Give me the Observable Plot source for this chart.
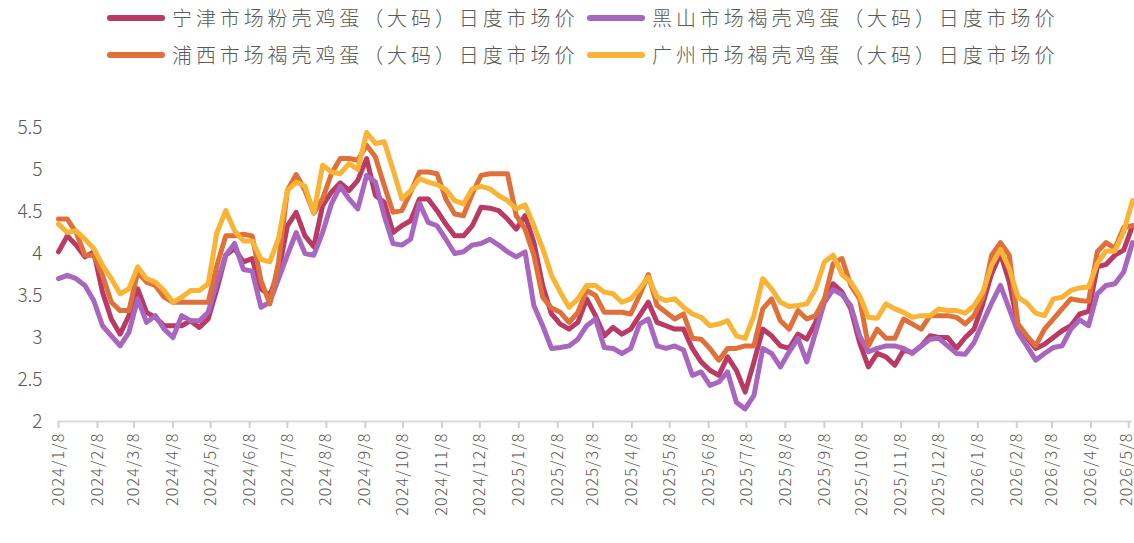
<!DOCTYPE html>
<html>
<head>
<meta charset="utf-8">
<script src="https://cdn.jsdelivr.net/npm/d3@7"></script>
<script src="https://cdn.jsdelivr.net/npm/@observablehq/plot@0.6"></script>
<style>
  html, body { margin: 0; padding: 0; background: #fff; }
  body { width: 1134px; height: 543px; overflow: hidden; font-family: "Noto Sans CJK SC", "Noto Sans", sans-serif; }
  #legend { position: relative; width: 1134px; height: 85px; }
  .item { position: absolute; display: flex; align-items: center; height: 30px; }
  .sw { width: 58px; height: 6px; border-radius: 3px; margin-right: 7px; }
  .lab { font-size: 20px; font-weight: 300; letter-spacing: 3.9px; color: #595959; white-space: nowrap; line-height: 30px; }
  #chart svg { display: block; }
</style>
</head>
<body>
<div id="legend"></div>
<div id="chart"></div>
<script>
const seriesNames = ["宁津市场粉壳鸡蛋（大码）日度市场价", "黑山市场褐壳鸡蛋（大码）日度市场价", "浦西市场褐壳鸡蛋（大码）日度市场价", "广州市场褐壳鸡蛋（大码）日度市场价"];
const seriesColors = ["#B93A63", "#A966BF", "#E0703A", "#F9B335"];

const dates = [
"2024-01-08","2024-01-15","2024-01-22","2024-01-29","2024-02-05","2024-02-12","2024-02-19","2024-02-26",
"2024-03-04","2024-03-11","2024-03-18","2024-03-25","2024-04-01","2024-04-08","2024-04-15","2024-04-22","2024-04-29",
"2024-05-06","2024-05-13","2024-05-20","2024-05-27","2024-06-03","2024-06-10","2024-06-17","2024-06-24",
"2024-07-01","2024-07-08","2024-07-15","2024-07-22","2024-07-29","2024-08-05","2024-08-12","2024-08-19","2024-08-26",
"2024-09-02","2024-09-09","2024-09-16","2024-09-23","2024-09-30","2024-10-07","2024-10-14","2024-10-21","2024-10-28",
"2024-11-04","2024-11-11","2024-11-18","2024-11-25","2024-12-02","2024-12-09","2024-12-16","2024-12-23","2024-12-30",
"2025-01-06","2025-01-13","2025-01-20","2025-01-27","2025-02-03","2025-02-10","2025-02-17","2025-02-24",
"2025-03-03","2025-03-10","2025-03-17","2025-03-24","2025-03-31","2025-04-07","2025-04-14","2025-04-21","2025-04-28",
"2025-05-05","2025-05-12","2025-05-19","2025-05-26","2025-06-02","2025-06-09","2025-06-16","2025-06-23","2025-06-30",
"2025-07-07","2025-07-14","2025-07-21","2025-07-28","2025-08-04","2025-08-11","2025-08-18","2025-08-25",
"2025-09-01","2025-09-08","2025-09-15","2025-09-22","2025-09-29","2025-10-06","2025-10-13","2025-10-20","2025-10-27",
"2025-11-03","2025-11-10","2025-11-17","2025-11-24","2025-12-01","2025-12-08","2025-12-15","2025-12-22","2025-12-29",
"2026-01-05","2026-01-12","2026-01-19","2026-01-26","2026-02-02","2026-02-09","2026-02-16","2026-02-23",
"2026-03-02","2026-03-09","2026-03-16","2026-03-23","2026-03-30","2026-04-06","2026-04-13","2026-04-20","2026-04-27",
"2026-05-04","2026-05-11"];

// 宁津 (crimson)
const ningjin = [4.02,4.21,4.10,3.96,4.02,3.54,3.22,3.04,3.26,3.58,3.30,3.24,3.14,3.14,3.14,3.20,3.12,3.22,3.58,3.98,
4.06,3.90,3.94,3.58,3.50,3.78,4.33,4.49,4.21,4.08,4.57,4.73,4.84,4.75,4.87,5.13,4.69,4.61,4.25,4.33,
4.39,4.65,4.65,4.51,4.35,4.21,4.21,4.33,4.55,4.54,4.51,4.41,4.29,4.45,4.13,3.62,3.28,3.16,3.10,3.18,
3.46,3.26,3.02,3.12,3.04,3.10,3.26,3.42,3.18,3.14,3.10,3.10,2.87,2.71,2.61,2.55,2.77,2.61,2.35,2.71,
3.10,3.02,2.90,2.87,3.04,2.98,3.18,3.44,3.64,3.54,3.34,2.94,2.65,2.81,2.77,2.67,2.85,2.82,2.90,3.02,
3.00,3.00,2.87,3.00,3.10,3.40,3.76,4.00,3.66,3.14,3.00,2.87,2.92,3.00,3.08,3.14,3.28,3.31,3.84,3.87,
3.98,4.04,4.33];
// 黑山 (purple)
const heishan = [3.70,3.74,3.70,3.62,3.44,3.14,3.02,2.90,3.06,3.46,3.18,3.26,3.10,3.00,3.26,3.20,3.20,3.30,3.66,3.98,
4.12,3.81,3.79,3.36,3.42,3.70,3.98,4.25,4.00,3.98,4.25,4.59,4.80,4.65,4.53,4.93,4.85,4.45,4.12,4.10,
4.17,4.60,4.37,4.33,4.17,4.00,4.02,4.10,4.12,4.17,4.10,4.02,3.96,4.02,3.38,3.14,2.87,2.88,2.90,2.98,
3.14,3.22,2.88,2.87,2.81,2.87,3.16,3.22,2.90,2.87,2.90,2.85,2.55,2.59,2.43,2.47,2.59,2.23,2.15,2.31,
2.87,2.81,2.65,2.83,2.99,2.71,3.06,3.42,3.57,3.51,3.38,3.02,2.83,2.87,2.90,2.90,2.87,2.81,2.90,2.98,
2.99,2.90,2.81,2.80,2.94,3.18,3.41,3.62,3.34,3.06,2.90,2.73,2.81,2.88,2.90,3.10,3.21,3.14,3.52,3.62,
3.64,3.78,4.13];
// 浦西 (orange)
const puxi = [4.41,4.41,4.25,3.98,3.98,3.74,3.42,3.32,3.32,3.78,3.66,3.62,3.48,3.42,3.42,3.42,3.42,3.42,3.86,4.21,
4.21,4.23,4.21,3.68,3.40,3.90,4.75,4.94,4.75,4.48,4.65,4.95,5.13,5.13,5.11,5.29,5.15,4.81,4.49,4.51,
4.73,4.97,4.97,4.95,4.65,4.47,4.45,4.71,4.93,4.95,4.95,4.95,4.45,4.29,3.98,3.48,3.35,3.30,3.18,3.30,
3.56,3.50,3.30,3.30,3.30,3.28,3.50,3.75,3.38,3.30,3.22,3.28,2.99,2.98,2.87,2.73,2.87,2.87,2.90,2.90,
3.34,3.46,3.20,3.10,3.32,3.22,3.26,3.46,3.88,3.94,3.62,3.46,2.90,3.10,2.99,2.99,3.22,3.16,3.10,3.26,
3.26,3.26,3.24,3.16,3.26,3.48,3.98,4.13,3.98,3.16,3.02,2.90,3.10,3.22,3.34,3.46,3.44,3.43,4.02,4.13,
4.06,4.31,4.33];
// 广州 (yellow)
const guangzhou = [4.35,4.25,4.27,4.17,4.06,3.86,3.70,3.52,3.58,3.84,3.70,3.66,3.56,3.42,3.48,3.56,3.56,3.64,4.25,4.51,
4.27,4.15,4.15,3.93,3.90,4.18,4.75,4.85,4.80,4.48,5.05,4.97,4.95,5.07,5.00,5.44,5.31,5.33,5.00,4.65,
4.75,4.89,4.85,4.82,4.76,4.63,4.59,4.77,4.80,4.77,4.69,4.63,4.53,4.58,4.33,4.06,3.74,3.54,3.36,3.46,
3.62,3.62,3.54,3.52,3.42,3.46,3.58,3.72,3.48,3.44,3.46,3.36,3.28,3.24,3.14,3.16,3.20,3.02,2.99,3.26,
3.70,3.58,3.42,3.37,3.38,3.40,3.58,3.90,3.98,3.75,3.66,3.50,3.24,3.23,3.40,3.34,3.30,3.24,3.26,3.26,
3.34,3.32,3.32,3.29,3.38,3.54,3.86,4.05,3.82,3.48,3.41,3.29,3.26,3.46,3.48,3.56,3.59,3.60,3.88,4.03,
4.03,4.26,4.63];

const tickLabels = ["2024/1/8","2024/2/8","2024/3/8","2024/4/8","2024/5/8","2024/6/8","2024/7/8","2024/8/8","2024/9/8","2024/10/8","2024/11/8","2024/12/8",
"2025/1/8","2025/2/8","2025/3/8","2025/4/8","2025/5/8","2025/6/8","2025/7/8","2025/8/8","2025/9/8","2025/10/8","2025/11/8","2025/12/8",
"2026/1/8","2026/2/8","2026/3/8","2026/4/8","2026/5/8"];
const yTicks = [2, 2.5, 3, 3.5, 4, 4.5, 5, 5.5];

const seriesValues = [ningjin, heishan, puxi, guangzhou];
const parseLabel = s => { const [y, m, d] = s.split("/").map(Number); return new Date(Date.UTC(y, m - 1, d)); };
const tickDates = tickLabels.map(parseLabel);

const rows = [];
seriesNames.forEach((name, i) => {
  dates.forEach((ds, j) => rows.push({series: name, date: new Date(ds + "T00:00:00Z"), value: seriesValues[i][j]}));
});

// legend
const legend = document.getElementById("legend");
const legendPos = [[107, 3], [587, 3], [107, 40], [587, 40]];
seriesNames.forEach((name, i) => {
  const it = document.createElement("div");
  it.className = "item";
  it.style.left = legendPos[i][0] + "px";
  it.style.top = legendPos[i][1] + "px";
  it.innerHTML = `<div class="sw" style="background:${seriesColors[i]}"></div><div class="lab">${name}</div>`;
  legend.appendChild(it);
});

const chart = Plot.plot({
  width: 1134,
  height: 458,
  marginTop: 42,
  marginBottom: 122,
  marginLeft: 58,
  marginRight: 2,
  style: {fontFamily: "'Noto Sans CJK SC', 'Noto Sans', sans-serif", color: "#595959", background: "#fff"},
  x: {type: "utc", domain: [new Date(dates[0] + "T00:00:00Z"), new Date(dates[dates.length - 1] + "T00:00:00Z")]},
  y: {domain: [2, 5.5]},
  color: {domain: seriesNames, range: seriesColors},
  marks: [
    Plot.ruleY([2], {stroke: "#d9d9d9", strokeWidth: 2}),
    Plot.axisX({ticks: tickDates, tickFormat: d => tickLabels[tickDates.findIndex(t => +t === +d)], tickRotate: -90, tickSize: 7, tickPadding: 4, stroke: "#d0d0d0", strokeWidth: 2, fontSize: 16, fill: "#595959", label: null}),
    Plot.axisY({ticks: yTicks, tickFormat: d => String(d), tickSize: 0, tickPadding: 16, fontSize: 19, fill: "#595959", label: null}),
    Plot.line(rows, {x: "date", y: "value", z: "series", stroke: "series", strokeWidth: 5, strokeLinejoin: "round", strokeLinecap: "round"})
  ]
});
chart.querySelectorAll("g[aria-label='x-axis tick label'] text, g[aria-label='y-axis tick label'] text").forEach(t => { t.style.fontWeight = 300; });
const xl = chart.querySelectorAll("g[aria-label='x-axis tick label'] text");
xl.forEach(t => { t.style.letterSpacing = "1.2px"; });
if (xl.length) xl[xl.length - 1].setAttribute("dy", "-2");
document.getElementById("chart").appendChild(chart);
</script>
</body>
</html>
